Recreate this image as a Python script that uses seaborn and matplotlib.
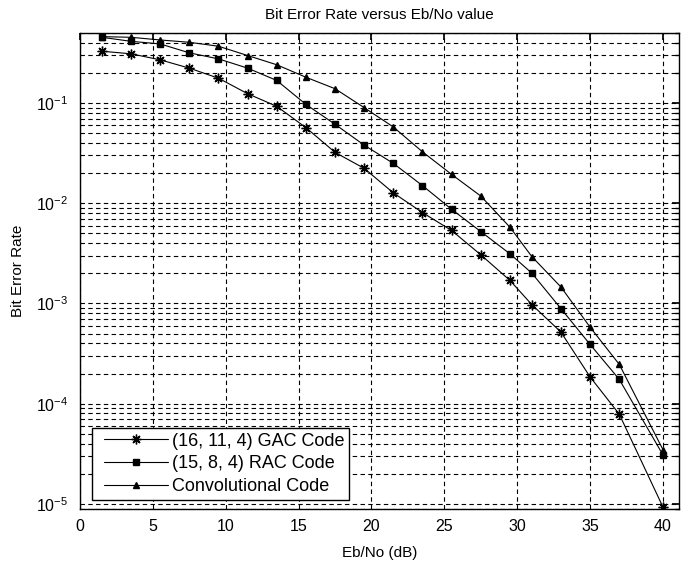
import numpy as np
import pandas as pd
import matplotlib
matplotlib.use("Agg")
import matplotlib.pyplot as plt
from matplotlib.lines import Line2D
from matplotlib.legend_handler import HandlerLine2D
import seaborn as sns

# ---- data ----
eb_no = [1.5, 3.5, 5.5, 7.5, 9.5, 11.5, 13.5, 15.5, 17.5, 19.5,
         21.5, 23.5, 25.5, 27.5, 29.5, 31, 33, 35, 37, 40]
gac_ber = [0.329, 0.31, 0.27, 0.223, 0.177, 0.124, 0.0927, 0.0569, 0.0322, 0.0223,
           0.0127, 0.00807, 0.00535, 0.00306, 0.0017, 0.000975, 0.000518, 0.000185,
           7.87e-5, 9.3e-6]
rac_ber = [0.453, 0.413, 0.389, 0.317, 0.276, 0.223, 0.168, 0.097, 0.0614, 0.038,
           0.025, 0.015, 0.0087, 0.00522, 0.00313, 0.00201, 0.000889, 0.00039,
           0.000175, 3.08e-5]
conv_ber = [0.46, 0.453, 0.426, 0.404, 0.369, 0.298, 0.241, 0.181, 0.139, 0.09,
            0.0577, 0.0326, 0.0194, 0.0118, 0.00577, 0.00294, 0.00146, 0.00058,
            0.000247, 3.48e-5]
labels = ["(16, 11, 4) GAC Code", "(15, 8, 4) RAC Code", "Convolutional Code"]
x_ticks = [0, 5, 10, 15, 20, 25, 30, 35, 40]
title = "Bit Error Rate versus Eb/No value"
x_label = "Eb/No (dB)"
y_label = "Bit Error Rate"

sns.set_theme(style="white")
plt.rcParams["font.family"] = ["Liberation Sans", "DejaVu Sans"]
plt.rcParams["mathtext.fontset"] = "custom"
plt.rcParams["mathtext.rm"] = "Liberation Sans"
plt.rcParams["mathtext.it"] = "Liberation Sans"
plt.rcParams["text.color"] = "black"

fig = plt.figure(figsize=(6.9, 5.61), dpi=100)
ax = fig.add_axes([80 / 690, 52 / 561, 599 / 690, 476 / 561])

series = [gac_ber, rac_ber, conv_ber]
markers = [(8, 2, 0), "s", "^"]
msizes = [7, 5, 4]
for vals, lab, mk, ms in zip(series, labels, markers, msizes):
    sns.lineplot(x=eb_no, y=vals, ax=ax, color="black", linewidth=0.8,
                 marker=mk, markersize=ms, markerfacecolor="black",
                 markeredgecolor="black", markeredgewidth=1.0, label=lab,
                 zorder=3)

ax.set_yscale("log")
ax.set_xlim(0, 41.1)
ax.set_ylim(8.9e-6, 0.5)
ax.set_xticks(x_ticks)
ax.grid(True, which="major", axis="x", color="black", linestyle=(0, (4, 3)), linewidth=0.8)
ax.grid(True, which="both", axis="y", color="black", linestyle=(0, (4, 3)), linewidth=0.8)
ax.tick_params(which="both", direction="in", top=True, right=True, color="black",
               labelsize=11.5, labelcolor="black")
ax.tick_params(which="major", length=5)
ax.tick_params(which="minor", length=3)
ax.tick_params(axis="x", which="both", pad=7)
ax.tick_params(axis="y", which="both", pad=8.5)
for s in ax.spines.values():
    s.set_color("black")
    s.set_linewidth(1.0)

ax.set_title(title, fontsize=11, color="black", pad=10)
ax.set_xlabel(x_label, fontsize=11, color="black", labelpad=9)
ax.set_ylabel(y_label, fontsize=11, color="black", labelpad=8)

leg = ax.legend(loc="lower left", bbox_to_anchor=(0.02, 0.019), borderaxespad=0,
                fontsize=13, handlelength=3.94, labelspacing=0.32, frameon=True,
                fancybox=False, edgecolor="black", framealpha=1, borderpad=0.27,
                handletextpad=0.22,
                handler_map={Line2D: HandlerLine2D(xpad=0.39)})
leg.get_frame().set_linewidth(1.0)
for t in leg.get_texts():
    t.set_color("black")

fig.savefig("out.png", dpi=100)
